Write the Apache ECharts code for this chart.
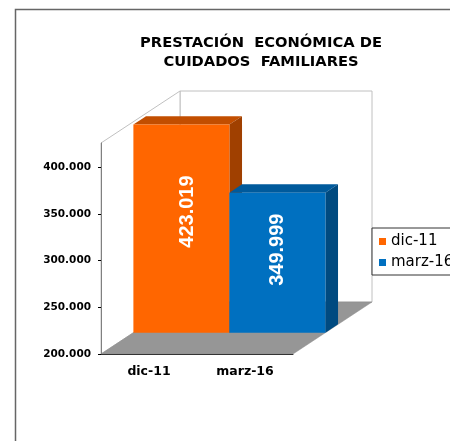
<!DOCTYPE html>
<html>
<head>
<meta charset="utf-8">
<title>Prestación económica de cuidados familiares</title>
<script src="https://cdn.jsdelivr.net/npm/echarts@6/dist/echarts.min.js"></script>
<style>
  html, body { margin: 0; padding: 0; background: #fff; }
  #chart { width: 450px; height: 441px; }
</style>
</head>
<body>
<div id="chart"></div>
<script>
// datos
const categories = ['dic-11', 'marz-16'];
const values = [423019, 349999];
const yTicks = [200000, 250000, 300000, 350000, 400000];
const titleText = 'PRESTACIÓN  ECONÓMICA DE\nCUIDADOS  FAMILIARES';

// estilo de cada barra: cara frontal, superior y lateral
const barColors = [
  { front: '#FF6600', top: '#C24E00', side: '#A04000' },
  { front: '#0070C0', top: '#005A9C', side: '#004A80' }
];
const labelNudge = [[6, -17], [0, -13]]; // ajuste fino de la etiqueta dentro de la barra

// profundidad del "3D" en píxeles
const WALL_DX = 79;
const WALL_DY = -52;
const BAR_FRONT = 0.41; // fracción de la profundidad donde empieza la barra
const BAR_BACK = 0.57;

const fmt = (v) => String(v).replace(/\B(?=(\d{3})+(?!\d))/g, '.');

const chart = echarts.init(document.getElementById('chart'));

// paredes y suelo, calculados a partir del grid
function renderFrame(params, api) {
  const cs = params.coordSys;
  const x0 = cs.x, x1 = cs.x + cs.width;
  const y0 = cs.y, yb = cs.y + cs.height;
  const dx = WALL_DX, dy = WALL_DY;
  return {
    type: 'group',
    children: [
      {
        type: 'polygon',
        shape: { points: [[x0 + dx, y0 + dy], [x1 + dx, y0 + dy], [x1 + dx, yb + dy], [x0 + dx, yb + dy]] },
        style: { fill: '#fff', stroke: '#c0c0c0', lineWidth: 1 }
      },
      {
        type: 'polygon',
        shape: { points: [[x0, yb], [x0, y0], [x0 + dx, y0 + dy], [x0 + dx, yb + dy]] },
        style: { fill: '#fff', stroke: '#c0c0c0', lineWidth: 1 }
      },
      {
        type: 'polygon',
        shape: { points: [[x0, yb], [x1, yb], [x1 + dx, yb + dy], [x0 + dx, yb + dy]] },
        style: { fill: '#969696', stroke: '#8a8a8a', lineWidth: 0.5 }
      }
    ]
  };
}

function makeBarRenderer(idx) {
  const c = barColors[idx];
  return function (params, api) {
    const cat = api.value(0);
    const val = api.value(1);
    const band = api.size([1, 0])[0];
    const base = api.coord([cat, yTicks[0]]);
    const top = api.coord([cat, val]);
    const ox = WALL_DX * BAR_FRONT, oy = WALL_DY * BAR_FRONT;
    const bdx = WALL_DX * (BAR_BACK - BAR_FRONT), bdy = WALL_DY * (BAR_BACK - BAR_FRONT);
    const xl = base[0] - band / 2 + ox, xr = base[0] + band / 2 + ox;
    const yt = top[1] + oy, yb = base[1] + oy;
    const nudge = labelNudge[idx];
    return {
      type: 'group',
      children: [
        {
          type: 'polygon',
          shape: { points: [[xl, yt], [xr, yt], [xr + bdx, yt + bdy], [xl + bdx, yt + bdy]] },
          style: { fill: c.top }
        },
        {
          type: 'polygon',
          shape: { points: [[xr, yt], [xr + bdx, yt + bdy], [xr + bdx, yb + bdy], [xr, yb]] },
          style: { fill: c.side }
        },
        {
          type: 'rect',
          shape: { x: xl, y: yt, width: xr - xl, height: yb - yt },
          style: { fill: c.front }
        },
        {
          type: 'text',
          x: (xl + xr) / 2 + nudge[0],
          y: (yt + yb) / 2 + nudge[1],
          rotation: Math.PI / 2,
          style: {
            text: fmt(val),
            fill: '#fff',
            fontSize: 20,
            fontWeight: 'bold',
            fontFamily: '"Liberation Sans", Arial, sans-serif',
            align: 'center',
            verticalAlign: 'middle'
          }
        }
      ]
    };
  };
}

const barSeries = categories.map((name, i) => ({
  type: 'custom',
  name: name,
  z: 3,
  itemStyle: { color: barColors[i].front },
  renderItem: makeBarRenderer(i),
  data: [[i, values[i]]]
}));

chart.setOption({
  animation: false,
  graphic: [
    {
      type: 'rect',
      shape: { x: 15.5, y: 9.5, width: 500, height: 500 },
      style: { fill: 'none', stroke: '#666', lineWidth: 1.5 },
      silent: true
    }
  ],
  title: {
    text: titleText,
    left: 261,
    top: 34,
    padding: 0,
    textAlign: 'center',
    textStyle: {
      fontFamily: '"DejaVu Sans", sans-serif',
      fontWeight: 'bold',
      fontSize: 14.7,
      lineHeight: 19,
      color: '#000'
    }
  },
  legend: {
    data: categories,
    orient: 'vertical',
    left: 372,
    top: 228,
    padding: [6, 8, 5, 7],
    itemGap: 6,
    itemWidth: 7,
    itemHeight: 7,
    icon: 'rect',
    selectedMode: false,
    borderColor: '#333',
    borderWidth: 1,
    backgroundColor: '#fff',
    textStyle: {
      fontFamily: '"DejaVu Sans", sans-serif',
      fontSize: 15,
      color: '#000'
    }
  },
  grid: { left: 101, top: 143, width: 192, height: 211 },
  xAxis: {
    type: 'category',
    data: categories,
    z: 4,
    axisLine: { lineStyle: { color: '#333', width: 1 } },
    axisTick: { length: 3, lineStyle: { color: '#000' } },
    axisLabel: {
      margin: 11,
      fontFamily: '"DejaVu Sans", sans-serif',
      fontWeight: 'bold',
      fontSize: 12.5,
      color: '#000'
    }
  },
  yAxis: {
    type: 'value',
    min: 200000,
    max: 426000,
    interval: 50000,
    z: 4,
    splitLine: { show: false },
    axisLine: { show: true, lineStyle: { color: '#808080', width: 1 } },
    axisTick: { show: true, length: 3, customValues: yTicks, lineStyle: { color: '#000' } },
    axisLabel: {
      customValues: yTicks,
      margin: 10,
      formatter: fmt,
      fontFamily: '"DejaVu Sans", sans-serif',
      fontWeight: 'bold',
      fontSize: 10.5,
      color: '#000'
    }
  },
  series: [
    {
      type: 'custom',
      name: 'frame',
      z: 1,
      silent: true,
      renderItem: renderFrame,
      data: [[0, yTicks[0]]]
    }
  ].concat(barSeries)
});
</script>
</body>
</html>
